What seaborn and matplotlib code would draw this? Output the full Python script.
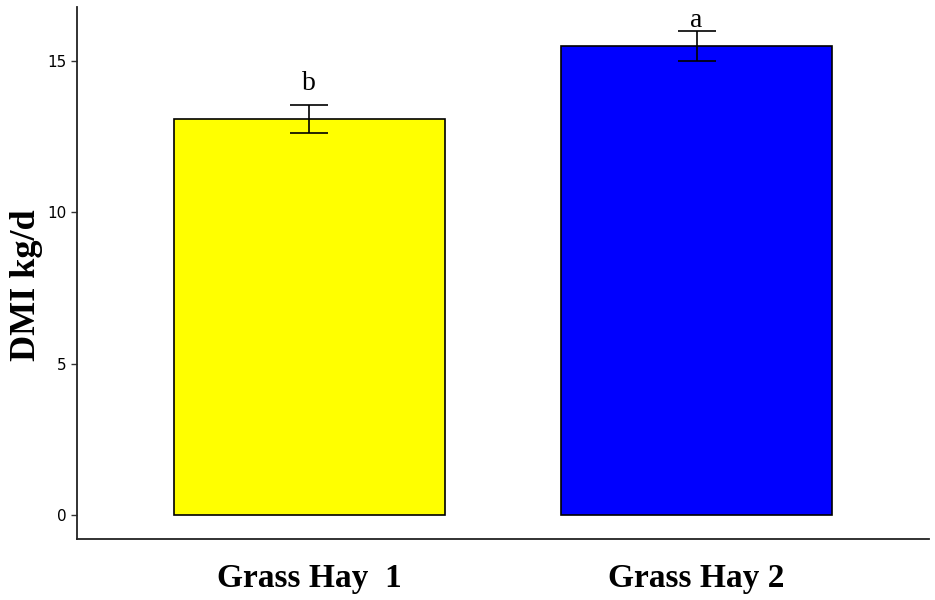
import seaborn as sns
import matplotlib.pyplot as plt
import pandas as pd

# data
groups = ['Grass Hay  1', 'Grass Hay 2']
dmi = [13.08, 15.49]
se = [0.47, 0.50]
letters = ['b', 'a']
letter_y = [14.05, 16.12]
colors = ['#ffff00', '#0000ff']

df = pd.DataFrame({'group': groups, 'dmi': dmi})

sns.set_style('white')
fig = plt.figure(figsize=(9.35, 6), dpi=100)
ax = fig.add_axes([0.0824, 0.1017, 0.9112, 0.8863])

sns.barplot(x='group', y='dmi', data=df, hue='group', palette=colors,
            saturation=1, edgecolor='black', linewidth=1.2, width=0.7,
            legend=False, ax=ax)
ax.errorbar(range(len(groups)), dmi, yerr=se, fmt='none', ecolor='black',
            elinewidth=1.2, capsize=13.5, capthick=1.2)
for i, (ly, t) in enumerate(zip(letter_y, letters)):
    ax.text(i, ly, t, ha='center', va='baseline', color='black',
            family='Liberation Serif', fontsize=20)

ax.set_xlim(-0.6, 1.6)
ax.set_ylim(-0.8, 16.78)
ax.set_yticks([0, 5, 10, 15])
ax.set_xlabel('')
ax.set_ylabel('DMI kg/d', family='Liberation Serif', fontweight='bold',
              fontsize=26, color='black')
ax.yaxis.set_label_coords(-0.04, 0.477)
ax.tick_params(axis='y', left=True, length=4, width=1, color='#333333',
               labelsize=11, labelcolor='black')
ax.tick_params(axis='x', bottom=False, pad=14, labelcolor='black')
for lab in ax.get_xticklabels():
    lab.set_family('Liberation Serif')
    lab.set_fontweight('bold')
    lab.set_fontsize(24)
sns.despine(ax=ax)
for sp in ['left', 'bottom']:
    ax.spines[sp].set_linewidth(1.3)
    ax.spines[sp].set_color('#222222')

fig.savefig('out.png', dpi=100)
